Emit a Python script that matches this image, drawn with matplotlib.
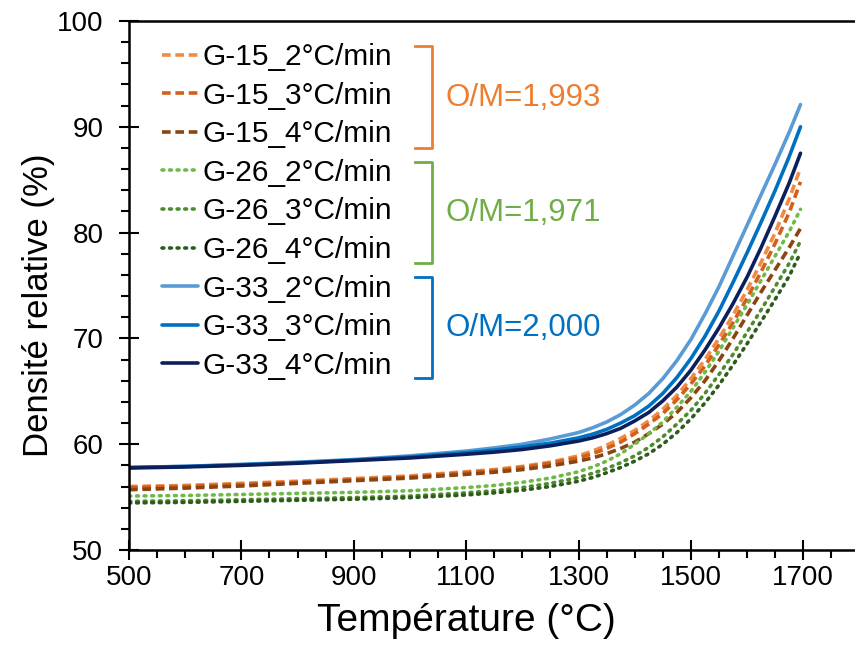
import matplotlib
matplotlib.use("Agg")
import matplotlib.pyplot as plt
from matplotlib.lines import Line2D
from matplotlib.ticker import MultipleLocator

plt.rcParams['font.family'] = ['Liberation Sans', 'DejaVu Sans']

temperature = [500, 600, 700, 800, 900, 1000, 1100, 1150, 1200, 1250, 1300,
               1325, 1350, 1375, 1400, 1425, 1450, 1475, 1500, 1525, 1550,
               1575, 1600, 1625, 1650, 1675, 1695]

g15_2 = [56.0, 56.1, 56.3, 56.5, 56.75, 57.0, 57.4, 57.6, 57.9, 58.3, 58.9,
         59.35, 59.9, 60.55, 61.3, 62.2, 63.3, 64.6, 66.2, 68.0, 70.0,
         72.2, 74.6, 77.2, 80.0, 83.2, 86.1]
g15_3 = [55.9, 56.0, 56.2, 56.4, 56.65, 56.9, 57.3, 57.5, 57.8, 58.2, 58.7,
         59.1, 59.6, 60.2, 61.0, 61.9, 62.9, 64.2, 65.7, 67.4, 69.4,
         71.5, 73.8, 76.3, 79.0, 81.9, 84.8]
g15_4 = [55.7, 55.85, 56.05, 56.3, 56.55, 56.8, 57.15, 57.35, 57.6, 57.95, 58.4,
         58.7, 59.1, 59.6, 60.2, 61.0, 61.9, 63.0, 64.4, 66.0, 67.9,
         70.0, 72.2, 74.4, 76.5, 78.6, 80.4]
g26_2 = [55.1, 55.15, 55.25, 55.35, 55.45, 55.6, 55.9, 56.1, 56.4, 56.8, 57.4,
         57.85, 58.4, 59.1, 60.0, 61.0, 62.1, 63.5, 65.0, 66.8, 68.8,
         71.0, 73.2, 75.5, 77.8, 80.1, 82.2]
g26_3 = [54.6, 54.65, 54.75, 54.85, 54.95, 55.1, 55.4, 55.6, 55.9, 56.3, 56.85,
         57.25, 57.7, 58.25, 58.9, 59.7, 60.7, 61.9, 63.2, 64.8, 66.6,
         68.5, 70.6, 72.7, 74.9, 77.1, 79.2]
g26_4 = [54.45, 54.5, 54.6, 54.7, 54.8, 54.95, 55.2, 55.4, 55.65, 56.0, 56.5,
         56.85, 57.3, 57.8, 58.4, 59.1, 60.0, 61.1, 62.4, 63.9, 65.6,
         67.5, 69.5, 71.6, 73.7, 75.9, 78.1]
g33_2 = [57.8, 57.9, 58.1, 58.3, 58.55, 58.9, 59.35, 59.65, 60.0, 60.5, 61.1,
         61.55, 62.1, 62.8, 63.7, 64.8, 66.2, 67.9, 69.9, 72.3, 74.9,
         77.8, 80.7, 83.6, 86.5, 89.5, 92.1]
g33_3 = [57.8, 57.9, 58.05, 58.25, 58.5, 58.8, 59.2, 59.45, 59.75, 60.1, 60.6,
         60.95, 61.4, 62.0, 62.7, 63.6, 64.8, 66.3, 68.1, 70.2, 72.6,
         75.3, 78.1, 81.0, 84.0, 87.2, 90.0]
g33_4 = [57.75, 57.85, 58.0, 58.2, 58.45, 58.7, 59.05, 59.25, 59.5, 59.85, 60.3,
         60.6, 61.0, 61.5, 62.2, 63.0, 64.1, 65.4, 67.0, 68.9, 71.0,
         73.3, 75.8, 78.6, 81.6, 84.7, 87.5]

labels = ["G-15_2°C/min", "G-15_3°C/min", "G-15_4°C/min",
          "G-26_2°C/min", "G-26_3°C/min", "G-26_4°C/min",
          "G-33_2°C/min", "G-33_3°C/min", "G-33_4°C/min"]
group_labels = ["O/M=1,993", "O/M=1,971", "O/M=2,000"]

x_ticks = [500, 700, 900, 1100, 1300, 1500, 1700]
y_ticks = [50, 60, 70, 80, 90, 100]

series = [g15_2, g15_3, g15_4, g26_2, g26_3, g26_4, g33_2, g33_3, g33_4]
colors = ["#F08A45", "#D2601A", "#8B4513",
          "#70B948", "#4E8A2E", "#2E5A1C",
          "#5B9BD5", "#0070C0", "#0B1F5C"]
styles = [(0, (2.4, 1.3))] * 3 + [(0, (0.5, 1.6))] * 3 + ['-'] * 3
caps = ['butt'] * 3 + ['round'] * 3 + ['round'] * 3
group_colors = ["#ED7D31", "#70AD47", "#0070C0"]

fig = plt.figure(figsize=(8.55, 6.52), dpi=100)
ax = fig.add_axes([129 / 855, 1 - 550 / 652, 1 - 129 / 855, (550 - 21) / 652])

for y, c, ls, cs, lab in zip(series, colors, styles, caps, labels):
    ax.plot(temperature, y, color=c, linestyle=ls, linewidth=2.6,
            dash_capstyle=cs, solid_capstyle='round', label=lab)

ax.set_xlim(500, 1792)
ax.set_ylim(50, 100)
ax.set_xticks(x_ticks)
ax.set_yticks(y_ticks)
ax.xaxis.set_minor_locator(MultipleLocator(50))
ax.yaxis.set_minor_locator(MultipleLocator(2))
ax.tick_params(which='major', direction='inout', length=15, width=1.5,
               labelsize=20, color='black')
ax.tick_params(axis='x', which='major', pad=3)
ax.tick_params(axis='y', which='major', pad=11)
ax.tick_params(which='minor', direction='out', length=5.5, width=1.5)
ax.spines['right'].set_visible(False)
for s in ['left', 'bottom', 'top']:
    ax.spines[s].set_linewidth(1.8)

ax.set_xlabel("Température (°C)", fontsize=28)
ax.xaxis.set_label_coords(0.4645, -0.134, transform=ax.transAxes)
ax.xaxis.label.set_va('center')
ax.set_ylabel("Densité relative (%)", fontsize=25)
ax.yaxis.set_label_coords(-0.125, 0.463, transform=ax.transAxes)
ax.yaxis.label.set_va('center')

leg = ax.legend(loc='upper left', bbox_to_anchor=(162 / 855, 1 - 43 / 652),
                bbox_transform=fig.transFigure, frameon=False, fontsize=21.5,
                handlelength=1.2, handletextpad=0.17, labelspacing=0.355,
                borderaxespad=0, borderpad=0)

# group brackets
brackets = [(46, 148), (162, 263), (277, 378)]
x0, x1 = 415, 432
for (top, bot), gc, gl in zip(brackets, group_colors, group_labels):
    xs = [x0 / 855, x1 / 855, x1 / 855, x0 / 855]
    ys = [1 - top / 652, 1 - top / 652, 1 - bot / 652, 1 - bot / 652]
    fig.add_artist(Line2D(xs, ys, color=gc, linewidth=2, transform=fig.transFigure))
    fig.text(445 / 855, 1 - ((top + bot) / 2 + 1) / 652, gl, color=gc,
             fontsize=22.5, va='center', ha='left')

fig.savefig("out.png", dpi=100)
